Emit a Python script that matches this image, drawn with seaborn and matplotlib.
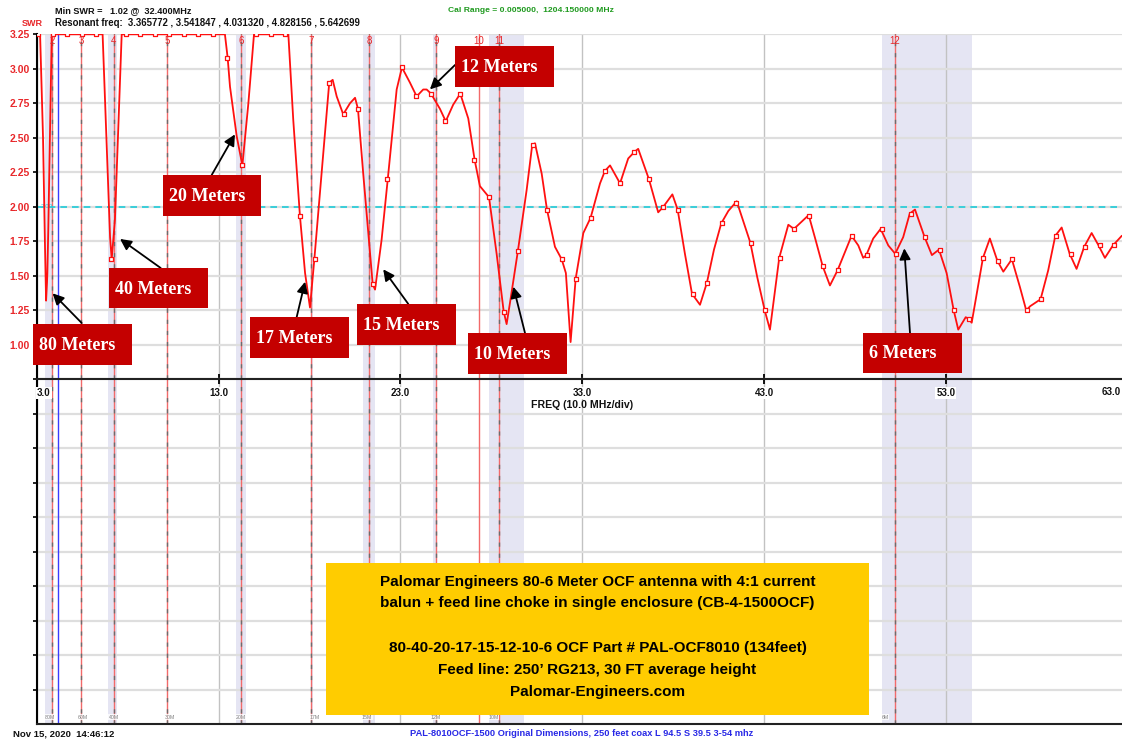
import numpy as np
import pandas as pd
import matplotlib
matplotlib.use('Agg')
import matplotlib.pyplot as plt
from matplotlib.patches import Rectangle
import seaborn as sns

W, H = 1122, 740

# SWR trace (MHz, SWR); 3.25 = pegged at top of scale
freq = [3.00, 3.17, 3.33, 3.44, 3.50, 3.55, 3.57, 3.62, 3.72, 3.81,
        6.61, 7.02, 7.11, 7.29, 7.66,
        13.34, 13.49, 13.62, 13.99, 14.30, 14.63, 14.94,
        16.83, 17.10, 17.47, 17.75, 18.02, 18.26, 18.66, 19.08, 19.27, 19.49,
        19.85, 20.22, 20.50, 20.66, 20.95, 21.47, 21.60, 21.96, 22.30, 22.79,
        23.08, 23.52, 23.89, 24.25, 24.44, 24.68, 25.17, 25.49, 25.90, 26.29,
        26.73, 27.08, 27.37, 27.87, 28.29, 28.68, 28.84, 29.02, 29.46, 29.94,
        30.25, 30.40, 30.77, 31.06, 31.50, 31.87, 32.10, 32.36, 32.64, 33.06,
        33.46, 33.98, 34.25, 34.53, 35.08, 35.53, 35.89, 36.08, 36.67, 37.18,
        37.46, 37.96, 38.25, 38.65, 39.04, 39.48, 39.86, 40.25, 40.65, 41.04,
        41.50, 42.25, 42.63, 43.04, 43.33, 43.84, 44.34, 44.65, 45.46, 45.84,
        46.23, 46.63, 47.05, 47.82, 48.19, 48.46, 48.63, 49.01, 49.42, 49.84,
        50.22, 50.66, 51.02, 51.31, 51.84, 52.24, 52.63, 53.05, 53.44, 53.69,
        54.10, 54.24, 54.43, 55.05, 55.43, 55.84, 56.17, 56.64, 57.08, 57.43,
        57.65, 58.22, 58.64, 59.03, 59.38, 59.82, 60.20, 60.62, 61.03, 61.41,
        61.76, 62.20, 62.69]
swr = [3.25, 3.25, 2.51, 1.71, 1.32, 1.45, 1.52, 1.83, 2.56, 3.25,
       3.25, 1.78, 1.62, 1.91, 3.25,
       3.25, 3.08, 2.87, 2.51, 2.30, 2.75, 3.25,
       3.25, 2.63, 1.93, 1.52, 1.27, 1.62, 2.24, 2.90, 2.92, 2.80,
       2.67, 2.75, 2.79, 2.71, 2.24, 1.44, 1.40, 1.76, 2.20, 2.85,
       3.01, 2.90, 2.80, 2.85, 2.85, 2.82, 2.71, 2.62, 2.74, 2.82,
       2.64, 2.34, 2.15, 2.07, 1.66, 1.24, 1.15, 1.30, 1.68, 2.12,
       2.45, 2.46, 2.24, 1.98, 1.71, 1.62, 1.52, 1.02, 1.48, 1.81,
       1.92, 2.17, 2.26, 2.30, 2.17, 2.35, 2.40, 2.42, 2.20, 1.96,
       2.00, 2.09, 1.98, 1.66, 1.37, 1.29, 1.45, 1.69, 1.88, 1.97,
       2.04, 1.74, 1.49, 1.25, 1.11, 1.63, 1.87, 1.84, 1.94, 1.76,
       1.57, 1.43, 1.54, 1.79, 1.72, 1.63, 1.65, 1.77, 1.84, 1.72,
       1.66, 1.78, 1.95, 1.98, 1.78, 1.65, 1.69, 1.52, 1.25, 1.11,
       1.20, 1.19, 1.16, 1.63, 1.77, 1.61, 1.53, 1.62, 1.42, 1.25,
       1.28, 1.33, 1.54, 1.79, 1.85, 1.66, 1.55, 1.71, 1.81, 1.72,
       1.63, 1.72, 1.79]

# sample squares drawn on the trace
sq_freq = [3.07, 3.87, 4.67, 5.47, 6.27, 7.07, 7.87, 8.67, 9.47, 10.27, 11.07, 11.87,
           12.67, 13.47, 14.27, 15.07, 15.87, 16.67, 17.47, 18.27, 19.07, 19.87, 20.67,
           21.47, 22.27, 23.07, 23.87, 24.67, 25.47, 26.27, 27.07, 27.87, 28.67, 29.47,
           30.27, 31.07, 31.87, 32.67, 33.47, 34.27, 35.07, 35.87, 36.67, 37.47, 38.27,
           39.07, 39.87, 40.67, 41.47, 42.27, 43.07, 43.87, 44.67, 45.47, 46.27, 47.07,
           47.87, 48.67, 49.47, 50.27, 51.07, 51.87, 52.67, 53.47, 54.27, 55.07, 55.87,
           56.67, 57.47, 58.27, 59.07, 59.87, 60.67, 61.47, 62.27]
sq_swr = [3.25, 3.25, 3.25, 3.25, 3.25, 1.62, 3.25, 3.25, 3.25, 3.25, 3.25, 3.25,
          3.25, 3.08, 2.30, 3.25, 3.25, 3.25, 1.93, 1.62, 2.90, 2.67, 2.71,
          1.44, 2.20, 3.01, 2.80, 2.82, 2.62, 2.82, 2.34, 2.07, 1.24, 1.68,
          2.45, 1.98, 1.62, 1.48, 1.92, 2.26, 2.17, 2.40, 2.20, 2.00, 1.98,
          1.37, 1.45, 1.88, 2.03, 1.74, 1.25, 1.63, 1.84, 1.93, 1.57, 1.54,
          1.79, 1.65, 1.84, 1.66, 1.95, 1.78, 1.69, 1.25, 1.19, 1.63, 1.61,
          1.62, 1.25, 1.33, 1.79, 1.66, 1.71, 1.72, 1.72]

# numbered frequency markers
marker_freq = [3.85, 5.42, 7.21, 10.15, 14.22, 18.08, 21.27, 24.95, 27.32, 28.42, 50.2]
marker_num = ['2', '3', '4', '5', '6', '7', '8', '9', '10', '11', '12']
marker_dashed = [True, True, True, True, True, True, True, True, False, True, True]

# ham band shading (MHz)
band_lo = [3.44, 6.91, 13.95, 18.07, 20.94, 24.79, 27.87, 49.49]
band_hi = [3.88, 7.40, 14.50, 18.17, 21.60, 25.00, 29.80, 54.44]
band_name = ['80M', '60M', '40M', '30M', '20M', '17M', '15M', '12M', '10M', '6M']
band_name_freq = [3.69, 5.50, 7.21, 10.29, 14.22, 18.30, 21.16, 24.95, 28.14, 49.66]

xtick_vals = [3, 13, 23, 33, 43, 53]
xtick_text = ['3.0', '13.0', '23.0', '33.0', '43.0', '53.0']

# label, box (l, t, r, b) px, arrow tail px, arrow head (MHz, SWR)
notes = [
    ('80 Meters', (33, 324, 132, 365), (81.7, 323), (3.86, 1.373)),
    ('40 Meters', (109, 268, 208, 308), (160.7, 268), (7.57, 1.767)),
    ('20 Meters', (163, 175, 261, 216), (211.7, 175), (13.89, 2.525)),
    ('17 Meters', (250, 317, 349, 358), (296.7, 317), (17.75, 1.457)),
    ('15 Meters', (357, 304, 456, 345), (408.3, 304), (22.05, 1.547)),
    ('10 Meters', (468, 333, 567, 374), (525, 333), (29.21, 1.421)),
    ('12 Meters', (455, 46, 554, 87), (455, 65), (24.62, 2.851)),
    ('6 Meters', (863, 333, 962, 373), (910, 333), (50.72, 1.699)),
]

info_lines = ['Palomar Engineers 80-6 Meter OCF antenna with 4:1 current',
              'balun + feed line choke in single enclosure (CB-4-1500OCF)',
              '80-40-20-17-15-12-10-6 OCF Part # PAL-OCF8010 (134feet)',
              "Feed line: 250\u2019 RG213, 30 FT average height",
              'Palomar-Engineers.com']
info_y = [582, 603, 648, 670, 692]

sns.set_theme(style='white')
plt.rcParams['font.family'] = ['Liberation Sans', 'DejaVu Sans']


def fx(px):
    return px / W


def fy(py):
    return 1 - py / H


fig = plt.figure(figsize=(W / 100, H / 100), dpi=100)
ax2 = fig.add_axes([fx(37), fy(724.3), (1122 - 37) / W, 345 / H])
ax = fig.add_axes([fx(37), fy(379.3), (1122 - 37) / W, 345 / H], sharex=ax2)
ax.set_zorder(2)
ax2.set_zorder(1)

for a in (ax, ax2):
    a.set_facecolor('white')
    a.set_axisbelow(True)
    a.yaxis.grid(True, color='#dedede', lw=1.6)
    a.xaxis.grid(True, color='#c2c2c2', lw=1.0)
    for lo, hi in zip(band_lo, band_hi):
        a.axvspan(lo, hi, color='#e5e5f3', lw=0, zorder=0.2)
    for f, d in zip(marker_freq, marker_dashed):
        a.axvline(f, color='#f26a6a', lw=1.0, zorder=1.5)
        if d:
            a.axvline(f, color='#6c6c6c', lw=1.0, dashes=(3, 5), zorder=1.6)
    a.axvline(4.14, color='#3b3bff', lw=1.0, zorder=1.6)
    for s in ('top', 'right'):
        a.spines[s].set_visible(False)
    a.spines['left'].set_color('black')
    a.spines['left'].set_linewidth(1.5)
    a.spines['bottom'].set_color('#222222')
    a.spines['bottom'].set_linewidth(1.5)

ax.set_xlim(3, 62.7)
ax.set_ylim(0.75, 3.25)
ax2.set_ylim(0, 10)

ax.set_xticks(xtick_vals)
ax.set_xticklabels(xtick_text)
yt = [0.75, 1.0, 1.25, 1.5, 1.75, 2.0, 2.25, 2.5, 2.75, 3.0, 3.25]
ax.set_yticks(yt)
ax.set_yticklabels([''] + ['%.2f' % v for v in yt[1:]])
ax.tick_params(axis='x', direction='inout', length=7, width=1.3, color='black',
               labelsize=7, pad=3, labelcolor='#111111', bottom=True)
ax.tick_params(axis='y', direction='out', length=3, width=1.2, color='black',
               labelsize=7.5, pad=2, labelcolor='#e8282b', left=True)
for lbl in ax.get_xticklabels():
    lbl.set_fontweight('bold')
    lbl.set_bbox(dict(facecolor='white', edgecolor='none', pad=0.8))
ax.get_xticklabels()[0].set_ha('left')
for lbl in ax.get_yticklabels():
    lbl.set_fontweight('bold')

ax2.set_yticks(range(1, 10))
ax2.set_yticklabels([])
ax2.tick_params(axis='y', direction='out', length=3, width=1.2, color='black', left=True)
ax2.tick_params(axis='x', length=0, labelbottom=False)

# 2.00 reference line
ax.axhline(2.0, color='#1fcbd9', lw=1.2, dashes=(4, 3), zorder=2)
ax.text(3.2, 2.0, '2.00', color='#1fcbd9', fontsize=4.5, va='center', ha='left', zorder=2)

# SWR trace and squares
trace = pd.DataFrame({'freq': freq, 'swr': swr})
sns.lineplot(data=trace, x='freq', y='swr', ax=ax, color='#ff1010', linewidth=1.3,
             sort=False, estimator=None, zorder=3)
sns.scatterplot(x=sq_freq, y=sq_swr, ax=ax, marker='s', s=11, facecolor='white',
                edgecolor='#ff1010', linewidth=0.9, zorder=4)
ax.set_xlabel('')
ax.set_ylabel('')
ax2.set_xlabel('')

for f, n in zip(marker_freq, marker_num):
    ax.text(f, 3.20, n, color='#e8282b', fontsize=7, ha='center', va='center', zorder=5)

for f, n in zip(band_name_freq, band_name):
    ax2.text(f, 0.21, n, color='#808080', fontsize=3.8, ha='center', va='center', zorder=5,
             bbox=dict(facecolor='white', edgecolor='none', pad=0.3, alpha=0.8))

# band annotations
for label, (l, t, r, b), (tx, ty), head in notes:
    fig.add_artist(Rectangle((fx(l), fy(b)), (r - l) / W, (b - t) / H,
                             transform=fig.transFigure, facecolor='#c40000',
                             edgecolor='none', zorder=3))
    fig.text(fx(l + 6), fy((t + b) / 2 + 1), label, color='white', fontsize=13,
             fontweight='bold', family=['Liberation Serif', 'DejaVu Serif'],
             va='center', ha='left', zorder=4)
    ax.annotate('', xy=head, xycoords='data', xytext=(fx(tx), fy(ty)),
                textcoords='figure fraction', annotation_clip=False,
                arrowprops=dict(arrowstyle='-|>,head_length=0.6,head_width=0.3',
                                mutation_scale=11, color='black', lw=1.3,
                                shrinkA=0, shrinkB=0))

# info box
fig.add_artist(Rectangle((fx(326), fy(715)), (869 - 326) / W, (715 - 563) / H,
                         transform=fig.transFigure, facecolor='#ffcc00',
                         edgecolor='none', zorder=3))
for line, y in zip(info_lines, info_y):
    fig.text(fx(597.5), fy(y), line, fontsize=11, fontweight='bold', color='black',
             ha='center', va='center', zorder=4)

# header / footer texts
fig.text(fx(55), fy(11), 'Min SWR =   1.02 @  32.400MHz', fontsize=6.6,
         fontweight='bold', color='#111111', va='center')
fig.text(fx(55), fy(23), 'Resonant freq:  3.365772 , 3.541847 , 4.031320 , 4.828156 , 5.642699',
         fontsize=6.9, fontweight='bold', color='#111111', va='center')
fig.text(fx(43), fy(23), 'SWR', fontsize=6.5, fontweight='bold', color='#e8282b',
         va='center', ha='right')
fig.text(fx(448), fy(11), 'Cal Range = 0.005000,  1204.150000 MHz', fontsize=6.1,
         fontweight='bold', color='#1f9a1f', va='center')
fig.text(fx(1121), fy(392), '63.0', fontsize=7, fontweight='bold', color='#111111',
         ha='right', va='center')
fig.text(fx(582), fy(405), 'FREQ (10.0 MHz/div)', fontsize=7.6, fontweight='bold',
         color='#111111', ha='center', va='center')
fig.text(fx(13), fy(734), 'Nov 15, 2020  14:46:12', fontsize=6.8, fontweight='bold',
         color='#111111', va='center')
fig.text(fx(410), fy(734),
         'PAL-8010OCF-1500 Original Dimensions, 250 feet coax L 94.5 S 39.5 3-54 mhz',
         fontsize=6.7, fontweight='bold', color='#2828e6', va='center')

fig.savefig('out.png', dpi=100)
